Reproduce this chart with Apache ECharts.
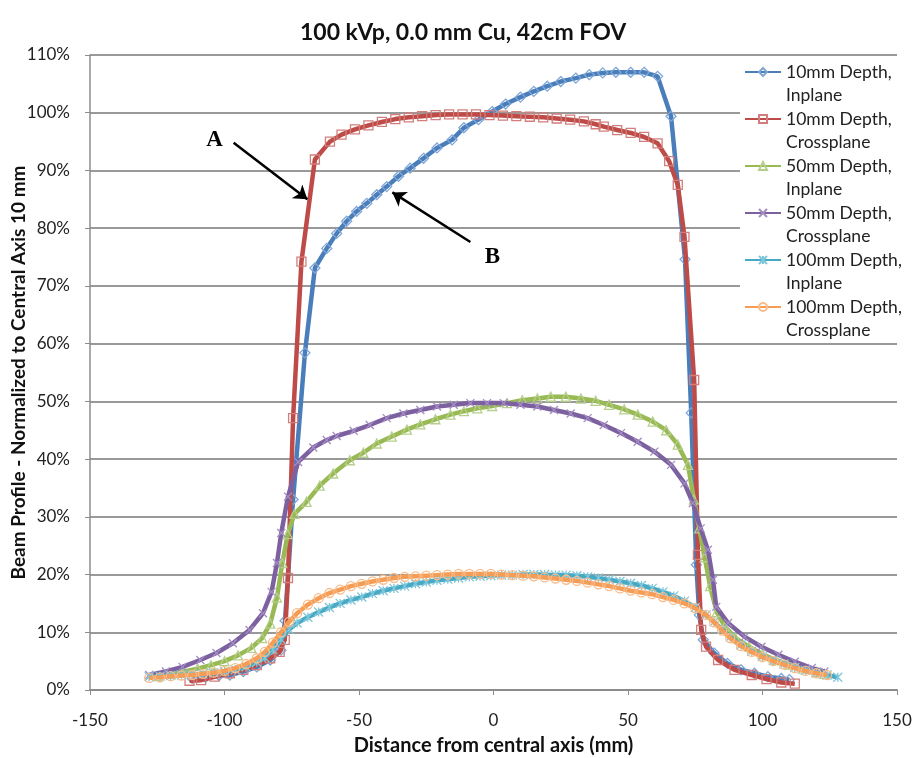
<!DOCTYPE html>
<html>
<head>
<meta charset="utf-8">
<script src="https://cdn.jsdelivr.net/npm/echarts@6/dist/echarts.min.js"></script>
<style>html,body{margin:0;padding:0;background:#fff;}#c{width:914px;height:758px;}</style>
</head>
<body>
<div id="c"></div>
<script>
const seriesNames = ['10mm Depth,\nInplane','10mm Depth,\nCrossplane','50mm Depth,\nInplane','50mm Depth,\nCrossplane','100mm Depth,\nInplane','100mm Depth,\nCrossplane'];
const xTicks = [-150,-100,-50,0,50,100,150];
const yTicks = [0,10,20,30,40,50,60,70,80,90,100,110];

// 10mm Depth, Inplane
const blueX = [-112,-107,-102,-98,-93,-88,-83,-79,-77.5,-74.5,-70.1,-66.4,-62,-58.3,-54.6,-50.9,-47.1,-43.4,-39.7,-35.3,-31,-26,-21,-15.4,-11,-5.6,-0.5,4.5,10,15,20,25,30.6,35.6,40.6,45.5,51,56,61,66,71.2,73.5,75.4,76.5,78,82,87,92,97,102,107,110];
const blueY = [2.0,2.2,2.5,2.6,3.2,4.0,5.2,6.9,12,33,58.4,73.1,76.5,79.1,81.2,82.9,84.3,85.8,87.2,89,90.4,92.1,93.9,95.3,97.4,98.8,100.2,101.5,102.7,103.7,104.6,105.4,106,106.6,106.9,107,107,107,106.3,99.4,74.6,48,21.7,13,8.7,6.4,4.6,3.5,2.9,2.3,2.0,1.8];

// 10mm Depth, Crossplane
const redX = [-113,-108.7,-103.7,-98,-93,-88,-83,-79.5,-77.6,-76.4,-74.5,-71.4,-66.4,-60.8,-56.5,-51.5,-46.5,-41.5,-36.5,-31.5,-26.5,-21.5,-16.5,-11.5,-6.5,-1.5,3.5,8.5,13.5,18.5,23.5,28.5,33.6,38,41,46,51,56,61,65.3,68.5,71,74.6,76,77.2,79,83.5,89.6,96,101.5,107,112];
const redY = [1.6,1.7,2.3,2.9,3.5,4.3,5.5,6.6,8.7,19.4,47.1,74.2,91.9,95,96.2,97.1,97.8,98.4,98.9,99.2,99.4,99.6,99.7,99.7,99.7,99.6,99.5,99.4,99.3,99.2,99,98.8,98.5,98,97.6,97,96.5,95.8,94.7,91.6,87.5,78.5,53.7,23.4,10.4,7.5,5.2,3.5,2.6,1.9,1.3,1.1];

// 50mm Depth, Inplane
const greenX = [-125,-120,-115,-110,-105,-100,-95,-90,-86,-83,-80.5,-78.5,-76.5,-74,-69.5,-64.6,-59.6,-53.4,-48.4,-43.4,-37.8,-32.2,-27.2,-21.6,-16,-11,-6,-0.5,5,10.7,16.3,21.3,26.9,32.5,38,43,48.6,53.6,59.2,64.2,68.5,72.3,74.5,76.5,78.5,80.5,83,86,90,95,100,105,110,115,120,123];
const greenY = [2.4,2.8,3.2,3.7,4.3,5,6,7.3,9,11.5,16,22,27,30.5,32.6,35.4,37.5,39.8,41.1,42.7,43.9,45.1,46,46.9,47.7,48.3,48.8,49.2,49.7,50.2,50.5,50.8,50.8,50.5,50.1,49.4,48.6,47.7,46.5,45,42.5,39,33,28,23,18,13.5,11,9,7.5,6.2,5.2,4.4,3.7,3.1,2.8];

// 50mm Depth, Crossplane
const purpleX = [-128,-121.8,-115.6,-109,-103,-96.9,-90.7,-85.7,-82.5,-80.5,-78.9,-76.4,-72.6,-67,-62,-58.3,-52,-46,-39.7,-33.5,-27.2,-21,-14.8,-8.6,-2.4,3.8,10,16.3,22.5,28.7,35,41,47.4,53.6,59.8,66,71,74.1,77,79.7,81.6,82.8,87.2,93.4,99.6,105.9,112,118.3,123];
const purpleY = [2.6,3.2,4,5.2,6.4,8.1,10.4,13.3,17,22,27.2,33.5,39.5,42,43.3,44,44.9,45.9,47.1,47.9,48.5,49.1,49.4,49.7,49.7,49.7,49.4,49.1,48.5,47.9,47.1,45.9,44.5,43,41.3,39,35.8,32.4,28,24.3,19.1,14.4,11.6,9.2,7.5,6.1,4.9,3.8,3.2];

// 100mm Depth, Inplane
const cyanX = [-128,-124,-120,-116,-112,-108,-104,-100,-96,-92,-88,-85,-82,-79,-76,-73,-69,-65,-61,-57,-53,-49,-45,-41,-37,-33,-29,-25,-21,-17,-13,-9,-5,-1,3,7,11,15,19,23,27,31,35,39,43,47,51,55,59,63,67,71,75,79,82,85,88,92,96,100,104,108,112,116,120,124,128];
const cyanY = [2.3,2.4,2.5,2.6,2.7,2.8,3.0,3.2,3.5,4.0,4.8,5.6,7.0,8.8,10.5,11.6,12.6,13.5,14.3,15,15.6,16.1,16.7,17.2,17.6,18,18.4,18.7,19,19.2,19.4,19.6,19.7,19.8,19.9,19.9,20,20,20,19.9,19.9,19.8,19.6,19.4,19.1,18.8,18.5,18.1,17.6,17,16.3,15.4,14.3,13,11.8,10.5,9.2,7.8,6.7,5.8,5.1,4.5,3.9,3.4,3.0,2.6,2.2];

// 100mm Depth, Crossplane
const orangeX = [-128,-124,-120,-116,-112,-108,-104,-100,-96,-92,-88,-85,-82,-79,-76,-73,-69,-65,-61,-57,-53,-49,-45,-41,-37,-33,-29,-25,-21,-17,-13,-9,-5,-1,3,7,11,15,19,23,27,31,35,39,43,47,51,55,59,63,67,71,75,79,82,85,88,92,96,100,104,108,112,116,120,124];
const orangeY = [2.1,2.2,2.4,2.5,2.6,2.8,3.0,3.3,3.8,4.5,5.5,6.6,8.2,10,11.8,13.3,14.8,15.9,16.8,17.4,18,18.4,18.8,19.1,19.4,19.6,19.7,19.8,19.9,20,20.1,20.1,20.1,20.1,20,19.9,19.8,19.7,19.5,19.3,19.1,18.9,18.6,18.3,18,17.6,17.2,16.9,16.6,16.1,15.6,15,14.2,13,11.7,10.3,9,7.6,6.6,5.7,5,4.4,3.8,3.3,2.9,2.6];

// annotations (data coordinates)
const arrowA = [[-96.6, 94.8], [-69.2, 85.0]];
const arrowB = [[-8.6, 77.6], [-37.6, 86.2]];
const labelA = [-103.7, 95.3];
const labelB = [-0.4, 75.0];

const lineColors = ['#4A7EBB','#BE4B48','#98B954','#7D60A0','#46AAC5','#F59D56'];
const markColors = ['#7FA6D6','#D27E7C','#B5CF8A','#A38DC2','#80C6DA','#F8BC8A'];
const symbols = ['diamond','rect','triangle','path://M0,0L10,10M10,0L0,10','path://M0,0L10,10M10,0L0,10M5,0L5,10','circle'];
const symbolSizes = [10,9,9,8,9,9];
const xs = [blueX, redX, greenX, purpleX, cyanX, orangeX];
const ys = [blueY, redY, greenY, purpleY, cyanY, orangeY];

const series = seriesNames.map((name, i) => ({
  name: name,
  type: 'line',
  data: xs[i].map((x, k) => [x, ys[i][k]]),
  symbol: symbols[i],
  symbolSize: symbolSizes[i],
  showAllSymbol: true,
  lineStyle: { width: 4.5, color: lineColors[i] },
  itemStyle: { color: 'rgba(255,255,255,0)', borderColor: markColors[i], borderWidth: 1.3 },
  emphasis: { disabled: true },
  animation: false,
  z: 2 + i
}));

series.push({
  name: 'annot',
  type: 'line',
  data: [],
  animation: false,
  markLine: {
    silent: true,
    animation: false,
    symbol: ['none', 'arrow'],
    symbolSize: 13,
    lineStyle: { color: '#000', width: 2.5, type: 'solid' },
    label: { show: false },
    emphasis: { disabled: true },
    data: [
      [{ coord: arrowA[0] }, { coord: arrowA[1] }],
      [{ coord: arrowB[0] }, { coord: arrowB[1] }]
    ]
  },
  markPoint: {
    silent: true,
    animation: false,
    symbol: 'circle',
    symbolSize: 1,
    itemStyle: { color: 'rgba(0,0,0,0)' },
    label: { show: true, position: 'inside', formatter: p => p.name, fontFamily: 'Liberation Serif', fontWeight: 'bold', fontSize: 23, color: '#000' },
    data: [
      { name: 'A', coord: labelA },
      { name: 'B', coord: labelB }
    ]
  }
});

const chart = echarts.init(document.getElementById('c'), null, { renderer: 'canvas' });
chart.setOption({
  animation: false,
  backgroundColor: '#fff',
  title: {
    text: '100 kVp, 0.0 mm Cu, 42cm FOV',
    left: 295, top: 16,
    textStyle: { fontFamily: 'Lato', fontWeight: 'bold', fontSize: 23, color: '#111' }
  },
  grid: { left: 90, right: 17, top: 55, bottom: 68, containLabel: false, outerBoundsMode: 'none' },
  xAxis: {
    type: 'value', min: xTicks[0], max: xTicks[xTicks.length - 1], interval: 50,
    name: 'Distance from central axis (mm)', nameLocation: 'middle', nameGap: 46,
    nameTextStyle: { fontFamily: 'Lato', fontWeight: 'bold', fontSize: 20, color: '#111' },
    axisLine: { show: true, onZero: false, lineStyle: { color: '#8C8C8C', width: 2 } },
    axisTick: { show: true, length: 5, lineStyle: { color: '#8C8C8C' } },
    splitLine: { show: false },
    axisLabel: { fontFamily: 'Lato', fontSize: 17, color: '#222', margin: 22 }
  },
  yAxis: {
    type: 'value', min: yTicks[0], max: yTicks[yTicks.length - 1], interval: 10,
    name: 'Beam Profile - Normalized to Central Axis 10 mm', nameLocation: 'middle', nameGap: 62,
    nameMoveOverlap: false,
    nameTextStyle: { fontFamily: 'Lato', fontWeight: 'bold', fontSize: 19, color: '#111' },
    axisLine: { show: true, onZero: false, lineStyle: { color: '#8C8C8C', width: 1.5 } },
    axisTick: { show: true, length: 5, lineStyle: { color: '#8C8C8C' } },
    splitLine: { show: true, lineStyle: { color: '#999999', width: 2 } },
    axisLabel: { fontFamily: 'Lato', fontSize: 17, color: '#222', margin: 20, formatter: '{value}%' }
  },
  legend: {
    orient: 'vertical', left: 744, top: 36.75, padding: 0,
    itemWidth: 36, itemHeight: 10, itemGap: -23.5,
    data: seriesNames,
    selectedMode: false,
    z: 10,
    formatter: name => '\n' + name,
    textStyle: { fontFamily: 'Lato', fontSize: 17.5, color: '#222', lineHeight: 23.5 }
  },
  graphic: [{
    type: 'rect', left: 740, top: 58, z: 5,
    shape: { width: 174, height: 283 },
    style: { fill: '#ffffff' },
    silent: true
  }],
  series: series
});
</script>
</body>
</html>
